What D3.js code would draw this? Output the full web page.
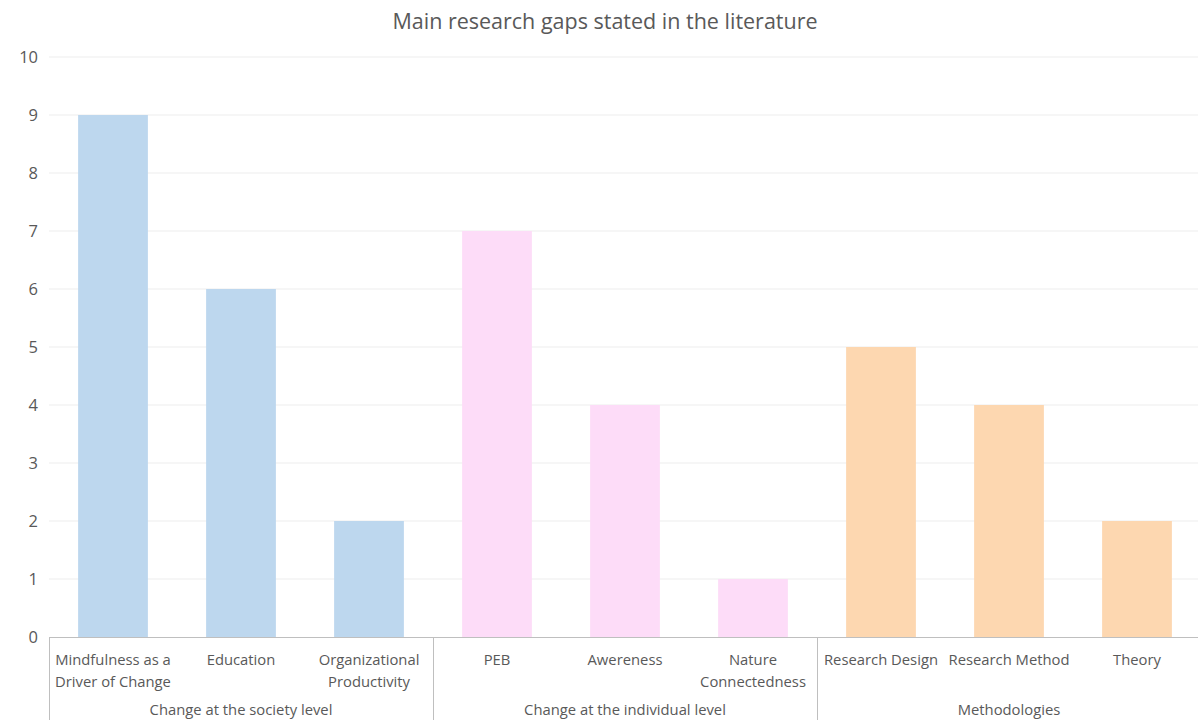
<!DOCTYPE html>
<html>
<head>
<meta charset="utf-8">
<script src="https://cdn.jsdelivr.net/npm/d3@7"></script>
<style>
  body { margin: 0; background: #fff; }
  svg { display: block; font-family: "Open Sans", Lato, sans-serif; }
</style>
</head>
<body>
<div id="chart"></div>
<script>
// Main research gaps stated in the literature - grouped bar chart
const categories = [
    ["Mindfulness as a", "Driver of Change"],
    ["Education"],
    ["Organizational", "Productivity"],
    ["PEB"],
    ["Awereness"],
    ["Nature", "Connectedness"],
    ["Research Design"],
    ["Research Method"],
    ["Theory"]
];
const values = [9, 6, 2, 7, 4, 1, 5, 4, 2];
const groups = ["Change at the society level", "Change at the individual level", "Methodologies"];
const groupOf = [0, 0, 0, 1, 1, 1, 2, 2, 2];
const groupColors = ["#bdd7ee", "#fddcf8", "#fdd7b0"];
const yTicks = [0, 1, 2, 3, 4, 5, 6, 7, 8, 9, 10];

const W = 1198, H = 720;
const margin = { top: 57, right: -3, bottom: 83, left: 49 };
const textColor = "#595959";
const fontFamily = '"Open Sans", Lato, sans-serif';

const svg = d3.select('#chart')
    .append('svg')
    .attr('width', W)
    .attr('height', H);

const x = d3.scaleBand()
    .domain(d3.range(categories.length))
    .range([margin.left, W - margin.right])
    .paddingInner(0.455)
    .paddingOuter(0.2275);

const y = d3.scaleLinear()
    .domain([0, 10])
    .range([H - margin.bottom, margin.top]);

// title
svg.append('text')
    .attr('x', 605)
    .attr('y', 29)
    .attr('text-anchor', 'middle')
    .attr('font-size', 21.5)
    .attr('fill', textColor)
    .text('Main research gaps stated in the literature');

// gridlines
svg.append('g')
    .selectAll('line')
    .data(yTicks.filter(d => d > 0))
    .join('line')
    .attr('x1', margin.left)
    .attr('x2', W)
    .attr('y1', d => y(d))
    .attr('y2', d => y(d))
    .attr('stroke', '#ededed')
    .attr('stroke-width', 1);

// y axis labels
const yAxis = svg.append('g')
    .attr('transform', `translate(${margin.left},0)`)
    .call(d3.axisLeft(y).tickValues(yTicks).tickSize(0).tickPadding(11));
yAxis.select('.domain').remove();
yAxis.selectAll('text')
    .attr('font-size', 16.5)
    .attr('fill', textColor)
    .attr('font-family', fontFamily);

// bars
svg.append('g')
    .selectAll('rect')
    .data(values)
    .join('rect')
    .attr('x', (d, i) => x(i))
    .attr('width', x.bandwidth())
    .attr('y', d => y(d))
    .attr('height', d => y(0) - y(d))
    .attr('fill', (d, i) => groupColors[groupOf[i]]);

// category axis line
const y0 = y(0);
svg.append('line')
    .attr('x1', margin.left)
    .attr('x2', W)
    .attr('y1', y0 + 0.5)
    .attr('y2', y0 + 0.5)
    .attr('stroke', '#bfbfbf');

// group separators
const step = x.step();
const bounds = groups.map((g, gi) => {
    const idx = d3.range(categories.length).filter(i => groupOf[i] === gi);
    const start = x(idx[0]) - x.paddingInner() * step / 2;
    const end = x(idx[idx.length - 1]) + x.bandwidth() + x.paddingInner() * step / 2;
    return { name: g, start, end };
});
const sepX = [bounds[0].start].concat(bounds.map(b => b.end));
svg.append('g')
    .selectAll('line')
    .data(sepX)
    .join('line')
    .attr('x1', d => Math.round(d) + 0.5)
    .attr('x2', d => Math.round(d) + 0.5)
    .attr('y1', y0)
    .attr('y2', H)
    .attr('stroke', '#bfbfbf');

// category labels
const catLabel = svg.append('g')
    .selectAll('text')
    .data(categories)
    .join('text')
    .attr('text-anchor', 'middle')
    .attr('font-size', 14.8)
    .attr('fill', textColor)
    .attr('transform', (d, i) => `translate(${x(i) + x.bandwidth() / 2},${y0 + 28})`);
catLabel.selectAll('tspan')
    .data(d => d)
    .join('tspan')
    .attr('x', 0)
    .attr('dy', (d, i) => i === 0 ? 0 : 21.5)
    .text(d => d);

// group labels
svg.append('g')
    .selectAll('text')
    .data(bounds)
    .join('text')
    .attr('x', d => (d.start + d.end) / 2)
    .attr('y', y0 + 78)
    .attr('text-anchor', 'middle')
    .attr('font-size', 14.8)
    .attr('fill', textColor)
    .text(d => d.name);
</script>
</body>
</html>
